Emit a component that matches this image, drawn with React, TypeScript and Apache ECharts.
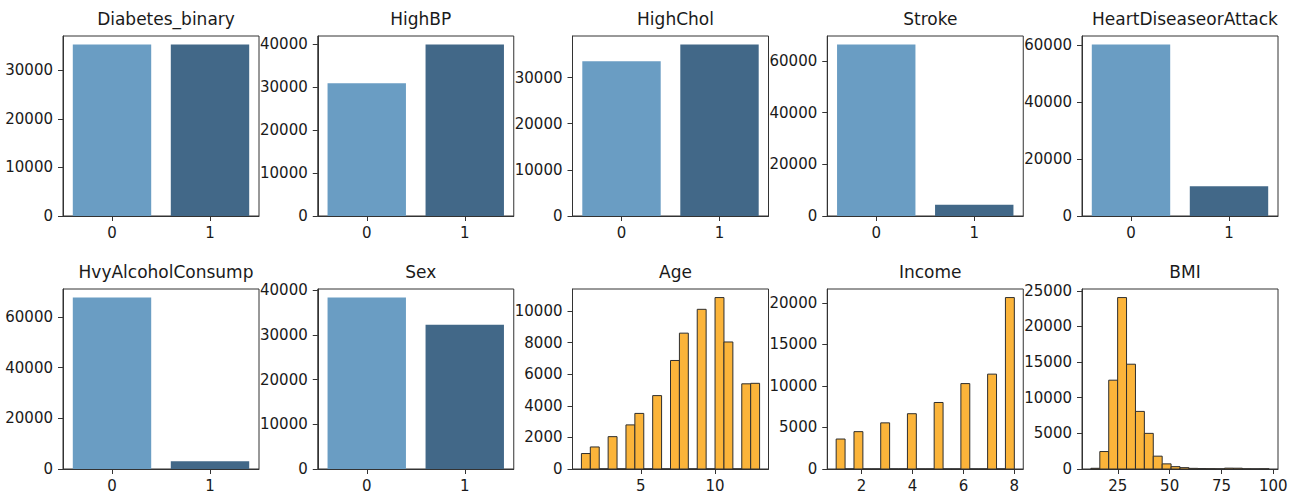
import React, { useEffect, useRef } from "react";
import * as echarts from "echarts";

// ---- Data ----
const binaryCategories = ["0", "1"];
const diabetesCounts = [35346, 35346];
const highBPCounts = [30860, 39832];
const highCholCounts = [33529, 37163];
const strokeCounts = [66297, 4395];
const heartCounts = [60243, 10449];
const alcoholCounts = [67672, 3020];
const sexCounts = [38386, 32306];

const diabetesTicks = [0, 10000, 20000, 30000];
const highBPTicks = [0, 10000, 20000, 30000, 40000];
const highCholTicks = [0, 10000, 20000, 30000];
const strokeTicks = [0, 20000, 40000, 60000];
const heartTicks = [0, 20000, 40000, 60000];
const alcoholTicks = [0, 20000, 40000, 60000];
const sexTicks = [0, 10000, 20000, 30000, 40000];

// histograms: 20 equal bins across [min, max]
const ageRange = [1, 13];
const ageBinCounts = [979, 1396, 0, 2049, 0, 2793, 3520, 0, 4648, 0, 6872, 8603, 0, 10112, 0, 10856, 8044, 0, 5394, 5426];
const ageXTicks = [5, 10];
const ageYTicks = [0, 2000, 4000, 6000, 8000, 10000];

const incomeRange = [1, 8];
const incomeBinCounts = [3611, 0, 4498, 0, 0, 5557, 0, 0, 6658, 0, 0, 8010, 0, 0, 10287, 0, 0, 11425, 0, 20646];
const incomeXTicks = [2, 4, 6, 8];
const incomeYTicks = [0, 5000, 10000, 15000, 20000];

const bmiRange = [12, 98];
const bmiBinCounts = [100, 2450, 12460, 24050, 14700, 8080, 5000, 1800, 720, 330, 190, 90, 60, 40, 20, 120, 110, 20, 15, 25];
const bmiXTicks = [25, 50, 75, 100];
const bmiYTicks = [0, 5000, 10000, 15000, 20000, 25000];

// ---- Styles ----
const FONT = "DejaVu Sans";
const TEXT = "#1a1a1a";
const FRAME = "#333333";
const LIGHT_BLUE = "#6a9dc3";
const DARK_BLUE = "#426888";
const HIST_FILL = "#fbb43a";
const HIST_EDGE = "#2e2e2e";

const GRID_LEFT0 = 63;
const GRID_STEP = 254.75;
const GRID_W = 196;
const GRID_H = 180;
const ROW_TOPS = [36, 289];

type Panel =
  | { kind: "bar"; title: string; counts: number[]; ticks: number[] }
  | { kind: "hist"; title: string; range: number[]; counts: number[]; xTicks: number[]; yTicks: number[] };

const panels: Panel[] = [
  { kind: "bar", title: "Diabetes_binary", counts: diabetesCounts, ticks: diabetesTicks },
  { kind: "bar", title: "HighBP", counts: highBPCounts, ticks: highBPTicks },
  { kind: "bar", title: "HighChol", counts: highCholCounts, ticks: highCholTicks },
  { kind: "bar", title: "Stroke", counts: strokeCounts, ticks: strokeTicks },
  { kind: "bar", title: "HeartDiseaseorAttack", counts: heartCounts, ticks: heartTicks },
  { kind: "bar", title: "HvyAlcoholConsump", counts: alcoholCounts, ticks: alcoholTicks },
  { kind: "bar", title: "Sex", counts: sexCounts, ticks: sexTicks },
  { kind: "hist", title: "Age", range: ageRange, counts: ageBinCounts, xTicks: ageXTicks, yTicks: ageYTicks },
  { kind: "hist", title: "Income", range: incomeRange, counts: incomeBinCounts, xTicks: incomeXTicks, yTicks: incomeYTicks },
  { kind: "hist", title: "BMI", range: bmiRange, counts: bmiBinCounts, xTicks: bmiXTicks, yTicks: bmiYTicks },
];

function buildOption() {
  const grids: any[] = [];
  const xAxes: any[] = [];
  const yAxes: any[] = [];
  const titles: any[] = [];
  const series: any[] = [];

  const axisCommon = {
    axisLine: { show: true, lineStyle: { color: FRAME, width: 1 } },
    axisTick: { show: true, inside: false, length: 5, lineStyle: { color: FRAME, width: 1 } },
    splitLine: { show: false },
  };
  const labelCommon = { color: TEXT, fontFamily: FONT, fontSize: 15 };

  panels.forEach((p, i) => {
    const row = i < 5 ? 0 : 1;
    const col = i % 5;
    const left = GRID_LEFT0 + col * GRID_STEP;
    const top = ROW_TOPS[row];
    grids.push({
      left,
      top,
      width: GRID_W,
      height: GRID_H,
      show: true,
      borderColor: FRAME,
      borderWidth: 1,
      backgroundColor: "#fff",
      containLabel: false,
    });
    titles.push({
      text: p.title,
      left: left + GRID_W / 2,
      top: top - 31,
      textAlign: "center",
      textStyle: { fontFamily: FONT, fontSize: 17, fontWeight: "normal", color: TEXT },
    });

    const maxCount = Math.max(...p.counts);
    const yTicks = p.kind === "bar" ? p.ticks : p.yTicks;
    yAxes.push({
      type: "value",
      gridIndex: i,
      min: 0,
      max: maxCount * 1.05,
      ...axisCommon,
      axisTick: { ...axisCommon.axisTick, customValues: yTicks },
      axisLabel: {
        ...labelCommon,
        margin: 10,
        customValues: yTicks,
        formatter: (v: number) => String(v),
      },
    });

    if (p.kind === "bar") {
      xAxes.push({
        type: "category",
        gridIndex: i,
        data: binaryCategories,
        boundaryGap: true,
        ...axisCommon,
        axisTick: { ...axisCommon.axisTick, alignWithLabel: true },
        axisLabel: { ...labelCommon, margin: 9 },
      });
      series.push({
        type: "bar",
        xAxisIndex: i,
        yAxisIndex: i,
        barWidth: "80%",
        data: p.counts.map((c, k) => ({
          value: c,
          itemStyle: { color: k === 0 ? LIGHT_BLUE : DARK_BLUE },
        })),
      });
    } else {
      const [lo, hi] = p.range;
      const span = hi - lo;
      const nb = p.counts.length;
      const w = span / nb;
      xAxes.push({
        type: "value",
        gridIndex: i,
        min: lo - span * 0.05,
        max: hi + span * 0.05,
        ...axisCommon,
        axisTick: { ...axisCommon.axisTick, customValues: p.xTicks },
        axisLabel: { ...labelCommon, margin: 9, customValues: p.xTicks, formatter: (v: number) => String(v) },
      });
      const data = p.counts.map((c, k) => [lo + k * w, lo + (k + 1) * w, c]);
      series.push({
        type: "custom",
        xAxisIndex: i,
        yAxisIndex: i,
        encode: { x: [0, 1], y: 2 },
        data,
        renderItem: (params: any, api: any) => {
          const x0 = api.value(0);
          const x1 = api.value(1);
          const c = api.value(2);
          const p0 = api.coord([x0, c]);
          const p1 = api.coord([x1, 0]);
          return {
            type: "rect",
            shape: { x: p0[0], y: p0[1], width: p1[0] - p0[0], height: p1[1] - p0[1] },
            style: { fill: HIST_FILL, stroke: HIST_EDGE, lineWidth: 1 },
          };
        },
      });
    }
  });

  return {
    animation: false,
    backgroundColor: "#ffffff",
    title: titles,
    grid: grids,
    xAxis: xAxes,
    yAxis: yAxes,
    series,
  };
}

export default function App() {
  const ref = useRef<HTMLDivElement>(null);
  useEffect(() => {
    if (!ref.current) return;
    const chart = echarts.init(ref.current, undefined, { renderer: "svg" });
    chart.setOption(buildOption() as any);
    return () => chart.dispose();
  }, []);
  return (
    <div
      ref={ref}
      style={{ position: "fixed", left: 0, top: 0, width: 1295, height: 496, background: "#fff" }}
    />
  );
}
